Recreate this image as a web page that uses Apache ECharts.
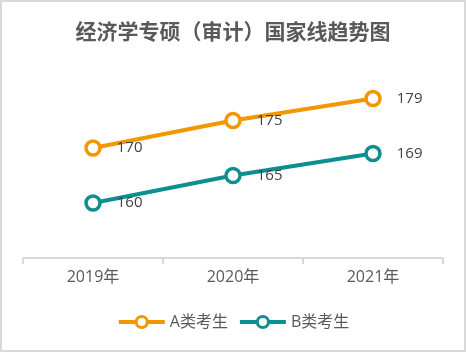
<!DOCTYPE html>
<html>
<head>
<meta charset="utf-8">
<script src="https://cdn.jsdelivr.net/npm/echarts@6/dist/echarts.min.js"></script>
<style>
  html, body { margin: 0; padding: 0; background: #fff; }
  #main { width: 466px; height: 352px; }
</style>
</head>
<body>
<div id="main"></div>
<script>
var years = ['2019年', '2020年', '2021年'];
var seriesNames = ['A类考生', 'B类考生'];
var aValues = [170, 175, 179];
var bValues = [160, 165, 169];
var colors = ['#F29700', '#0E8F8F'];

var chart = echarts.init(document.getElementById('main'));

function makeSeries(name, data, color) {
  return {
    name: name,
    type: 'line',
    data: data,
    symbol: 'circle',
    symbolSize: 14,
    lineStyle: { color: color, width: 4 },
    itemStyle: { color: '#fff', borderColor: color, borderWidth: 3.5 },
    label: {
      show: true,
      position: 'right',
      distance: 15,
      color: '#404040',
      fontSize: 15,
      fontFamily: '"Open Sans", "Noto Sans CJK SC", sans-serif'
    }
  };
}

var option = {
  color: colors,
  title: {
    text: '经济学专硕（审计）国家线趋势图',
    left: 'center',
    top: 16,
    textStyle: {
      color: '#595959',
      fontSize: 21,
      fontWeight: 'bold',
      fontFamily: '"Noto Sans CJK SC", sans-serif'
    }
  },
  graphic: [{
    type: 'rect',
    shape: { x: 1, y: 1, width: 464, height: 350 },
    style: { fill: 'none', stroke: '#d9d9d9', lineWidth: 2 },
    z: -1
  }],
  legend: {
    bottom: 17,
    left: 'center',
    itemWidth: 46,
    itemHeight: 14,
    itemGap: 10,
    textStyle: {
      color: '#595959',
      fontSize: 16,
      fontFamily: '"Open Sans", "Noto Sans CJK SC", sans-serif'
    },
    data: [
      { name: seriesNames[0], lineStyle: { width: 4, color: colors[0] }, itemStyle: { color: '#fff', borderColor: colors[0], borderWidth: 3 } },
      { name: seriesNames[1], lineStyle: { width: 4, color: colors[1] }, itemStyle: { color: '#fff', borderColor: colors[1], borderWidth: 3 } }
    ]
  },
  grid: {
    left: 23,
    right: 23,
    top: 93,
    bottom: 94
  },
  xAxis: {
    type: 'category',
    data: years,
    boundaryGap: true,
    axisLine: { lineStyle: { color: '#d9d9d9', width: 2 } },
    axisTick: { show: true, length: 6, lineStyle: { color: '#d9d9d9', width: 2 } },
    axisLabel: {
      color: '#595959',
      fontSize: 16,
      margin: 11,
      fontFamily: '"Open Sans", "Noto Sans CJK SC", sans-serif'
    }
  },
  yAxis: {
    type: 'value',
    min: 150,
    max: 180,
    show: false
  },
  series: [
    makeSeries(seriesNames[0], aValues, colors[0]),
    makeSeries(seriesNames[1], bValues, colors[1])
  ]
};

chart.setOption(option);
</script>
</body>
</html>
